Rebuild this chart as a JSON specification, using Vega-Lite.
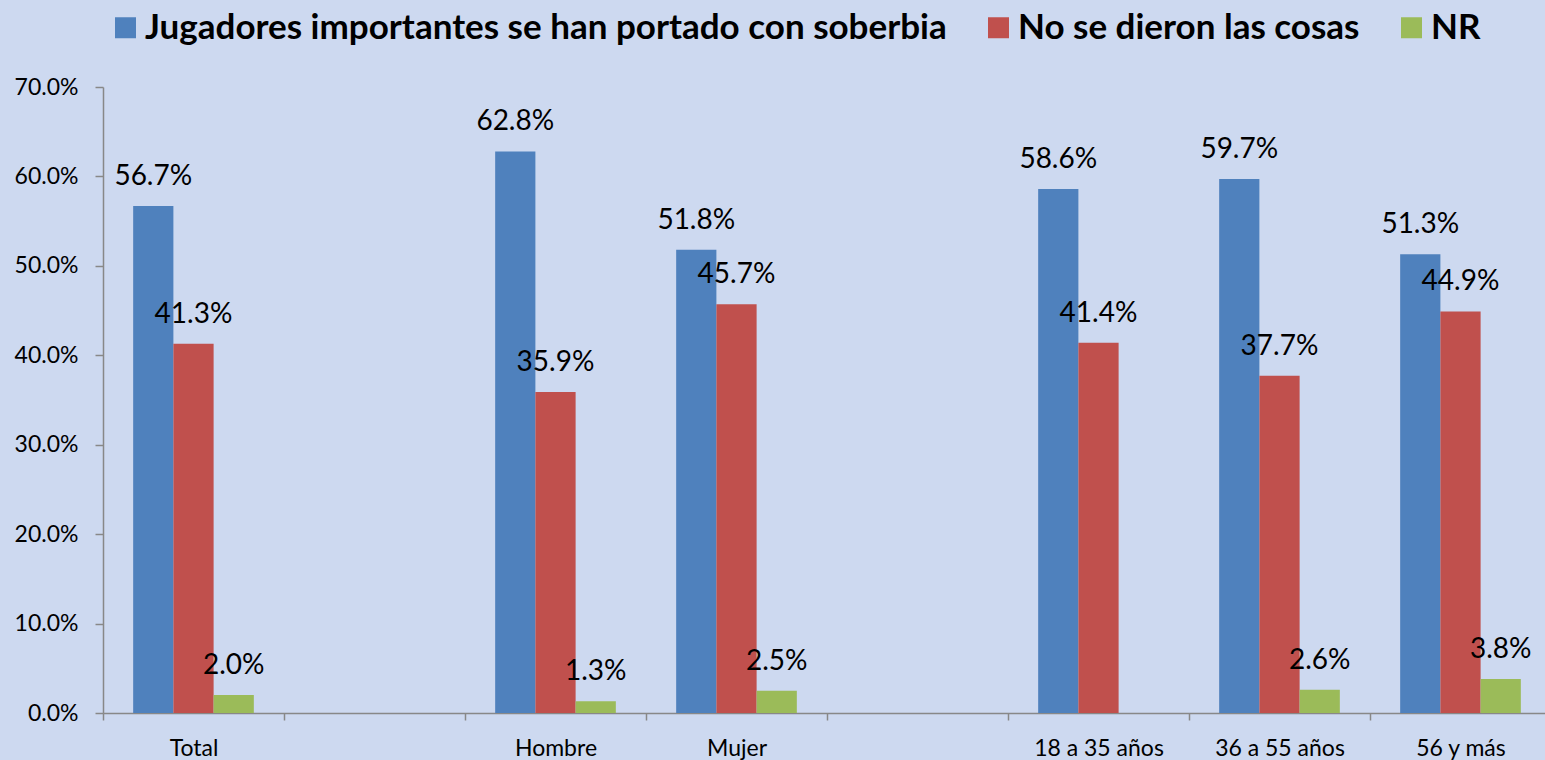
{
  "$schema": "https://vega.github.io/schema/vega-lite/v6.json",
  "width": 1448,
  "height": 626,
  "autosize": {"type": "none"},
  "padding": {"left": 103, "top": 87, "right": 0, "bottom": 47},
  "background": "#cdd9f0",
  "config": {"view": {"stroke": null}, "font": "Lato"},
  "data": {
    "values": [
      {"cat": "Total", "serie": "Jugadores importantes se han portado con soberbia", "valor": 0.567},
      {"cat": "Total", "serie": "No se dieron las cosas", "valor": 0.413},
      {"cat": "Total", "serie": "NR", "valor": 0.020},
      {"cat": "Hombre", "serie": "Jugadores importantes se han portado con soberbia", "valor": 0.628},
      {"cat": "Hombre", "serie": "No se dieron las cosas", "valor": 0.359},
      {"cat": "Hombre", "serie": "NR", "valor": 0.013},
      {"cat": "Mujer", "serie": "Jugadores importantes se han portado con soberbia", "valor": 0.518},
      {"cat": "Mujer", "serie": "No se dieron las cosas", "valor": 0.457},
      {"cat": "Mujer", "serie": "NR", "valor": 0.025},
      {"cat": "18 a 35 años", "serie": "Jugadores importantes se han portado con soberbia", "valor": 0.586},
      {"cat": "18 a 35 años", "serie": "No se dieron las cosas", "valor": 0.414},
      {"cat": "36 a 55 años", "serie": "Jugadores importantes se han portado con soberbia", "valor": 0.597},
      {"cat": "36 a 55 años", "serie": "No se dieron las cosas", "valor": 0.377},
      {"cat": "36 a 55 años", "serie": "NR", "valor": 0.026},
      {"cat": "56 y más", "serie": "Jugadores importantes se han portado con soberbia", "valor": 0.513},
      {"cat": "56 y más", "serie": "No se dieron las cosas", "valor": 0.449},
      {"cat": "56 y más", "serie": "NR", "valor": 0.038}
    ]
  },
  "encoding": {
    "x": {
      "field": "cat",
      "type": "nominal",
      "scale": {
        "domain": ["Total", " ", "Hombre", "Mujer", "  ", "18 a 35 años", "36 a 55 años", "56 y más"],
        "paddingInner": 0,
        "paddingOuter": 0
      },
      "axis": {
        "title": null,
        "labelAngle": 0,
        "labelFontSize": 23,
        "labelColor": "#000000",
        "labelPadding": 17,
        "domainColor": "#888888",
        "domainWidth": 1.5,
        "tickColor": "#888888",
        "tickWidth": 1.5,
        "tickSize": 7,
        "tickBand": "extent",
        "grid": false
      }
    },
    "xOffset": {
      "field": "serie",
      "type": "nominal",
      "scale": {
        "domain": ["Jugadores importantes se han portado con soberbia", "No se dieron las cosas", "NR"],
        "paddingInner": 0,
        "paddingOuter": 0.75
      }
    },
    "y": {
      "field": "valor",
      "type": "quantitative",
      "scale": {"domain": [0, 0.7], "nice": false},
      "axis": {
        "title": null,
        "values": [0, 0.1, 0.2, 0.3, 0.4, 0.5, 0.6, 0.7],
        "format": ".1%",
        "labelFontSize": 23,
        "labelColor": "#000000",
        "labelPadding": 17,
        "domainColor": "#888888",
        "domainWidth": 1.5,
        "tickColor": "#888888",
        "tickWidth": 1.5,
        "tickSize": 8,
        "grid": false
      }
    }
  },
  "layer": [
    {
      "mark": {"type": "bar"},
      "encoding": {
        "color": {
          "field": "serie",
          "type": "nominal",
          "scale": {
            "domain": ["Jugadores importantes se han portado con soberbia", "No se dieron las cosas", "NR"],
            "range": ["#4f81bd", "#c0504d", "#9bbb59"]
          },
          "legend": {
            "title": null,
            "orient": "none",
            "direction": "horizontal",
            "legendX": 5,
            "legendY": -77,
            "symbolType": "square",
            "symbolSize": 441,
            "symbolStrokeWidth": 0,
            "symbolOpacity": 1,
            "labelFontSize": 35,
            "labelFontWeight": "bold",
            "labelColor": "#000000",
            "labelOffset": 2,
            "columnPadding": 34,
            "labelLimit": 1200
          }
        }
      }
    },
    {
      "mark": {"type": "text", "dy": -21, "baseline": "alphabetic", "fontSize": 28, "color": "#000000"},
      "encoding": {
        "text": {"field": "valor", "type": "quantitative", "format": ".1%"}
      }
    }
  ]
}
